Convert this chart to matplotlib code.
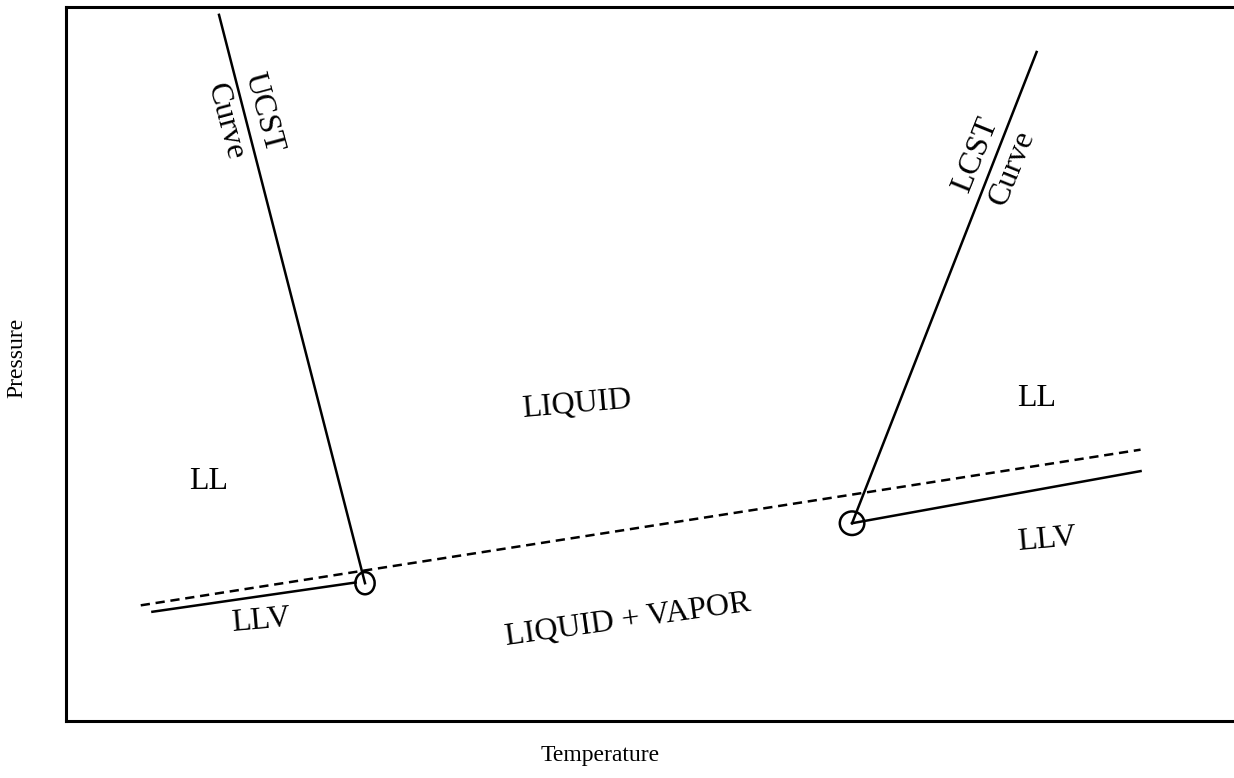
import matplotlib.pyplot as plt
from matplotlib.patches import Ellipse

plt.rcParams['font.family'] = ['Liberation Serif', 'DejaVu Serif']

# phase diagram sketch, temperature / pressure in arbitrary units (0-100)
ucst_T = [13.1, 25.6]
ucst_P = [98.9, 19.3]
lcst_T = [67.3, 83.1]
lcst_P = [27.7, 93.7]
vap_T = [6.4, 92.0]
vap_P = [16.2, 38.0]
llv_left_T = [7.4, 24.8]
llv_left_P = [15.3, 19.4]
llv_right_T = [67.3, 92.0]
llv_right_P = [27.7, 35.0]
crit_T = [25.6, 67.3]
crit_P = [19.3, 27.7]

labels = [
    # text, T, P, rotation
    ('UCST', 16.9, 85.2, -75),
    ('Curve', 13.6, 83.9, -75),
    ('LCST', 77.9, 79.3, 68),
    ('Curve', 81.0, 77.4, 68),
    ('LIQUID', 43.75, 44.3, 5),
    ('LIQUID + VAPOR', 48.1, 14.1, 8),
    ('LL', 12.2, 33.6, 0),
    ('LL', 83.1, 45.2, 0),
    ('LLV', 16.7, 14.0, 5),
    ('LLV', 84.0, 25.4, 5),
]

W, H = 1234, 778
x0, y0, y1 = 66, 721, 7          # axes edges in pixels
axw = W - x0 + 10

fig = plt.figure(figsize=(W / 100, H / 100), dpi=100)
ax = fig.add_axes([x0 / W, (H - y0) / H, axw / W, (y0 - y1) / H])
ax.set_xlim(0, 100 * axw / 1168)
ax.set_ylim(0, 100)

ax.plot(ucst_T, ucst_P, color='black', lw=1.8)
ax.plot(lcst_T, lcst_P, color='black', lw=1.8)
ax.plot(vap_T, vap_P, color='black', lw=1.8, ls='--', dashes=(3.7, 2.3))
ax.plot(llv_left_T, llv_left_P, color='black', lw=1.8)
ax.plot(llv_right_T, llv_right_P, color='black', lw=1.8)

for t, p, w, h in zip(crit_T, crit_P, [1.65, 2.1], [3.1, 3.3]):
    ax.add_patch(Ellipse((t, p), w, h, fill=False, ec='black', lw=1.8))

for txt, t, p, rot in labels:
    ax.text(t, p, txt, rotation=rot, ha='center', va='center', fontsize=23,
            rotation_mode='anchor')

ax.set_xticks([])
ax.set_yticks([])
for side in ['left', 'top', 'bottom']:
    ax.spines[side].set_linewidth(2.2)
ax.spines['right'].set_visible(False)

fig.text(600 / W, 1 - 755 / H, 'Temperature', ha='center', va='center', fontsize=17)
fig.text(17 / W, 1 - 358 / H, 'Pressure', ha='center', va='center', fontsize=17,
         rotation=90)

fig.savefig('out.png', dpi=100)
